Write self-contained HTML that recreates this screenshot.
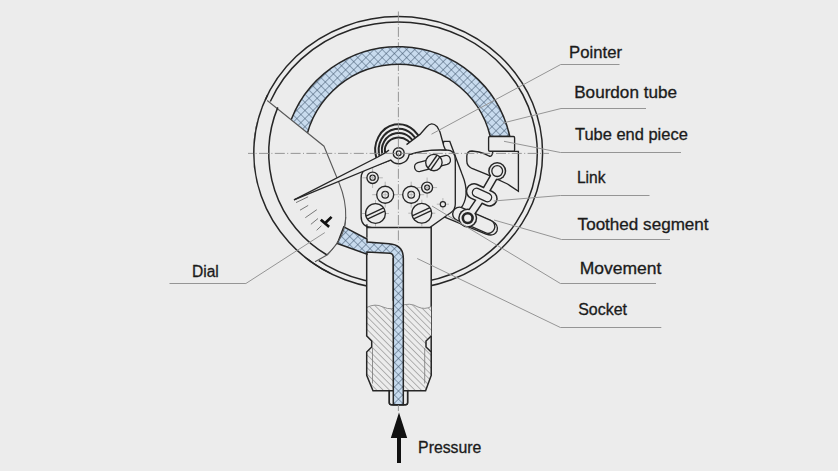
<!DOCTYPE html><html><head><meta charset="utf-8"><style>html,body{margin:0;padding:0;background:#ececec;}svg{display:block}text{font-family:"Liberation Sans",sans-serif;font-size:15.6px;fill:#1b1b1b;stroke:#1b1b1b;stroke-width:0.3px}</style></head><body><svg width="838" height="471" viewBox="0 0 838 471"><defs>
<pattern id="xh" width="5.75" height="5.75" patternUnits="userSpaceOnUse" patternTransform="rotate(45)">
<rect width="5.75" height="5.75" fill="#c8dbee"/>
<path d="M0 0H5.75M0 0V5.75" stroke="#3f556c" stroke-width="1.05"/>
</pattern>
<pattern id="xh2" width="3" height="3" patternUnits="userSpaceOnUse" patternTransform="rotate(45)">
<rect width="3" height="3" fill="#cfe0f0"/>
<path d="M0 0H3M0 0V3" stroke="#44596f" stroke-width="0.85"/>
</pattern>
<pattern id="th" width="4.5" height="4.5" patternUnits="userSpaceOnUse" patternTransform="rotate(45)">
<rect width="4.5" height="4.5" fill="#ececec"/>
<path d="M0 0H4.5" stroke="#858585" stroke-width="1.15"/>
</pattern>
</defs><rect width="838" height="471" fill="#ececec"/><ellipse cx="398.2" cy="153" rx="144.4" ry="136.4" fill="none" stroke="#262626" stroke-width="1.5"/><path d="M270.3 101.5A139.1 131.1 0 1 1 315.0 258.1" fill="none" stroke="#262626" stroke-width="1.5"/><path d="M288.4 128.0A114.5 114.5 0 0 1 509.8 136.5L490.3 136.5A94.5 94.5 0 0 0 304.4 150.0Z" fill="url(#xh)" stroke="#262626" stroke-width="1.5"/><path d="M264 99.5 L267.2 100.5 L324 146.2 L339.4 183.7 C344 195 346 206 345.7 217 C345.4 230 341 241 327 255 L318 261 L300 256 L270 230 L255 190 L252 150 L258 115 Z" fill="#ececec" stroke="none" stroke-width="1.5"/><path d="M267.2 100.5 L324 146.2 L339.4 183.7 C344 195 346 206 345.7 217 C345.4 230 341 241 327 255" fill="none" stroke="#5a5a5a" stroke-width="1.1"/><path d="M277.8 107.4 A118.5 118.5 0 0 0 327 255" fill="none" stroke="#262626" stroke-width="1.5"/><path d="M327 255 L315 261.8" fill="none" stroke="#5a5a5a" stroke-width="1.1"/><path d="M267.5 95 A144.4 136.4 0 0 0 330.0 273.2" fill="none" stroke="#262626" stroke-width="1.5"/><path d="M308.1 196.8L296.0 202.6" fill="none" stroke="#6a6a6a" stroke-width="0.9"/><path d="M308.2 205.4L300.0 210.2" fill="none" stroke="#6a6a6a" stroke-width="0.9"/><path d="M316.8 209.7L305.3 217.7" fill="none" stroke="#6a6a6a" stroke-width="0.9"/><path d="M318.0 218.5L310.9 224.3" fill="none" stroke="#6a6a6a" stroke-width="0.9"/><path d="M321.4 225.8L316.6 230.3" fill="none" stroke="#6a6a6a" stroke-width="0.9"/><path d="M321.8 220.6 L328.1 226 M325 223.3 L330.6 217.8" fill="none" stroke="#111" stroke-width="2.7" stroke-linecap="square"/><path d="M366.7 227.4 H431.2 V375.4 L425.6 390.8 H373 L366.7 375.4 Z" fill="#ececec" stroke="none" stroke-width="1.5"/><path d="M366.7 227.4 H431.2 V375.4" fill="none" stroke="#262626" stroke-width="1.5"/><path d="M366.7 307.5 Q375 303 383 307 Q392 311 400 306 Q410 302 418 307 Q425 310 431.2 306.5 V336 L426 341 V347 L431.2 352 V375.4 L425.6 390.8 H373 L366.7 375.4 V352 L371.7 347 V341 L366.7 336 Z" fill="url(#th)" stroke="none" stroke-width="1.5"/><path d="M366.7 307.5 Q375 303 383 307 Q392 311 400 306 Q410 302 418 307 Q425 310 431.2 306.5" fill="none" stroke="#888" stroke-width="0.9"/><path d="M366.7 254.2 V336 L371.7 341 V347 L366.7 352 V375.4 L373 390.8 H389.3 V402.6 Q389.3 404.8 391.5 404.8 H405.4 Q407.6 404.8 407.6 402.6 V390.8 H425.6 L431.2 375.4 V352 L426 347 V341 L431.2 336" fill="none" stroke="#262626" stroke-width="1.5"/><path d="M372.5 348 V383.5 M424.7 348 V383.5" fill="none" stroke="#777" stroke-width="0.8"/><path d="M389.3 390.8 V402.6 Q389.3 404.8 391.5 404.8 H405.4 Q407.6 404.8 407.6 402.6 V390.8Z" fill="#ececec" stroke="#262626" stroke-width="1.5"/><path d="M443.8 141.4 H449.8 L462 174 Q467 186 466 195 Q465 203 461 208 L492 221 Q499 225 497 231 Q494 237 486 234 L430 211 Z" fill="#ececec" stroke="#262626" stroke-width="1.35"/><path d="M493 151.4 H518.4 V191.2 L507.5 184 L486.8 174.3 L472 168.5 Q466.8 166 466.8 161 V156 Q467 151 472 151 L479 152 Q485 153.5 489 156 Q492 157 492.5 153 Z" fill="#ececec" stroke="#262626" stroke-width="1.35"/><rect x="488.6" y="136.5" width="26" height="14.7" rx="1.2" fill="#ececec" stroke="#262626" stroke-width="1.35"/><path d="M372 227.3 H430.1 L451 212.5 Q455.3 209.5 455.3 204 V160 Q455.3 150 446.7 150 Q425 149 409 154.7 L392 159.5 L367 168.8 Q361.1 171 361.1 178 V216.2 Q361.1 227.3 372 227.3 Z" fill="#ececec" stroke="#262626" stroke-width="1.35"/><path d="M366.9 224.3 V237.8" fill="none" stroke="#262626" stroke-width="1.35"/><path d="M362.4 177.8H382.8M372.6 167.6V188.0" stroke="#a8a8a8" stroke-width="0.8"/><path d="M372.2 194.7H398.2M385.2 181.7V207.7" stroke="#a8a8a8" stroke-width="0.8"/><path d="M398.2 194.7H424.2M411.2 181.7V207.7" stroke="#a8a8a8" stroke-width="0.8"/><path d="M417.1 187.6H437.1M427.1 177.6V197.6" stroke="#a8a8a8" stroke-width="0.8"/><path d="M436.8 204.2H449.0M442.9 198.1V210.3" stroke="#a8a8a8" stroke-width="0.8"/><path d="M362.0 213.5H389.0M375.5 200.0V227.0" stroke="#a8a8a8" stroke-width="0.8"/><path d="M408.3 213.2H435.3M421.8 199.7V226.7" stroke="#a8a8a8" stroke-width="0.8"/><circle cx="372.6" cy="177.8" r="5.7" fill="#ececec" stroke="#262626" stroke-width="1.35"/><circle cx="372.6" cy="177.8" r="2.6" fill="#ececec" stroke="#262626" stroke-width="1.3"/><path d="M370.0 177.8H375.2M372.6 175.2V180.4" stroke="#a8a8a8" stroke-width="0.7"/><circle cx="385.2" cy="194.7" r="8.5" fill="#ececec" stroke="#262626" stroke-width="1.35"/><circle cx="385.2" cy="194.7" r="3.3" fill="#ececec" stroke="#262626" stroke-width="1.3"/><path d="M381.9 194.7H388.5M385.2 191.4V198.0" stroke="#a8a8a8" stroke-width="0.7"/><circle cx="411.2" cy="194.7" r="8.5" fill="#ececec" stroke="#262626" stroke-width="1.35"/><circle cx="411.2" cy="194.7" r="3.3" fill="#ececec" stroke="#262626" stroke-width="1.3"/><path d="M407.9 194.7H414.5M411.2 191.4V198.0" stroke="#a8a8a8" stroke-width="0.7"/><circle cx="427.1" cy="187.6" r="5.5" fill="#ececec" stroke="#262626" stroke-width="1.35"/><circle cx="427.1" cy="187.6" r="2.4" fill="#ececec" stroke="#262626" stroke-width="1.3"/><path d="M424.7 187.6H429.5M427.1 185.2V190.0" stroke="#a8a8a8" stroke-width="0.7"/><circle cx="442.9" cy="204.2" r="2.6" fill="#ececec" stroke="#262626" stroke-width="1.2"/><circle cx="375.5" cy="213.5" r="9.9" fill="#ececec" stroke="#262626" stroke-width="1.35"/><path d="M365.94 216.08L383.62 207.84" fill="none" stroke="#262626" stroke-width="1.35"/><path d="M367.38 219.16L385.06 210.92" fill="none" stroke="#262626" stroke-width="1.35"/><circle cx="421.8" cy="213.2" r="9.9" fill="#ececec" stroke="#262626" stroke-width="1.35"/><path d="M412.24 215.78L429.92 207.54" fill="none" stroke="#262626" stroke-width="1.35"/><path d="M413.68 218.86L431.36 210.62" fill="none" stroke="#262626" stroke-width="1.35"/><path d="M420.15 171.45L447.15 164.45A4.6 4.6 0 0 0 444.85 155.55L417.85 162.55A4.6 4.6 0 0 0 420.15 171.45Z" fill="#ececec" stroke="#262626" stroke-width="1.35"/><circle cx="433.9" cy="162.5" r="8.2" fill="#ececec" stroke="#262626" stroke-width="1.35"/><path d="M427.98 168.17L437.20 154.99" fill="none" stroke="#262626" stroke-width="1.35"/><path d="M430.60 170.01L439.82 156.83" fill="none" stroke="#262626" stroke-width="1.35"/><path d="M456.77 220.23L485.27 232.73A6.8 6.8 0 0 0 490.73 220.27L462.23 207.77A6.8 6.8 0 0 0 456.77 220.23Z" fill="#ececec" stroke="#262626" stroke-width="1.35"/><circle cx="497.2" cy="171.1" r="9.05" fill="#262626"/><path d="M497.2 171.1L483.6 194.7" stroke="#262626" stroke-width="8.7" stroke-linecap="round"/><path d="M474 191.3L489.5 198.5" stroke="#262626" stroke-width="16.5" stroke-linecap="round"/><path d="M483.6 194.7L467.7 218.1" stroke="#262626" stroke-width="8.7" stroke-linecap="round"/><circle cx="467.7" cy="218.1" r="9.55" fill="#262626"/><circle cx="497.2" cy="171.1" r="7.550000000000001" fill="#ececec"/><path d="M497.2 171.1L483.6 194.7" stroke="#ececec" stroke-width="5.7" stroke-linecap="round"/><path d="M474 191.3L489.5 198.5" stroke="#ececec" stroke-width="13.5" stroke-linecap="round"/><path d="M483.6 194.7L467.7 218.1" stroke="#ececec" stroke-width="5.7" stroke-linecap="round"/><circle cx="467.7" cy="218.1" r="8.05" fill="#ececec"/><circle cx="497.2" cy="171.1" r="5.4" fill="#ececec" stroke="#262626" stroke-width="1.3"/><path d="M474.72 196.41L485.72 201.41A4.3 4.3 0 0 0 489.28 193.59L478.28 188.59A4.3 4.3 0 0 0 474.72 196.41Z" fill="#ececec" stroke="#262626" stroke-width="1.3"/><circle cx="467.7" cy="218.1" r="4.9" fill="#ececec" stroke="#262626" stroke-width="2.6"/><path d="M294 199.9 L377.8 157 L386 152.4 L389 150 L398.7 146 L406.5 144.6 Q414 139 420 134.4 L426.5 127 Q431.5 121 437 126.5 L440 132 L443.8 146 L446.7 150 Q425 149 409.1 154.7 A10.5 10.5 0 0 1 390.7 160 Z" fill="#ececec" stroke="none" stroke-width="1.35"/><path d="M294 199.9 L377.8 157 L386 152.4 L389 150" fill="none" stroke="#262626" stroke-width="1.35"/><path d="M294 199.9 L390.7 160 A10.5 10.5 0 0 0 409.1 154.7 Q425 149 446.7 150" fill="none" stroke="#262626" stroke-width="1.35"/><path d="M406.5 144.6 Q414 139 420 134.4 L426.5 127 Q431.5 121 437 126.5 L440 132 L443.8 146 L445.5 150" fill="none" stroke="#262626" stroke-width="1.35"/><clipPath id="spc"><path d="M350 100 H426.5 V127 L420 134.4 Q414 139 406.5 144.6 L398.7 147.3 L389 150 L377.8 157 L350 171 Z"/></clipPath><g clip-path="url(#spc)"><path d="M376.62 158.82A23.5 25.8 0 1 1 422.20 150" fill="none" stroke="#262626" stroke-width="2.0"/><path d="M379.91 157.29A20 21.3 0 1 1 418.70 150" fill="none" stroke="#262626" stroke-width="2.0"/><path d="M382.91 155.81A16.8 17 0 1 1 415.50 150" fill="none" stroke="#262626" stroke-width="2.0"/><path d="M385.73 154.28A13.8 12.5 0 1 1 412.50 150" fill="none" stroke="#262626" stroke-width="2.0"/></g><circle cx="398.7" cy="153.2" r="5.5" fill="#ececec" stroke="#262626" stroke-width="1.35"/><circle cx="398.7" cy="153.2" r="2.4" fill="#ececec" stroke="#262626" stroke-width="1.3"/><path d="M343.8 226.8 L367 239 L367 242 L389 243.8 Q403.3 245 403.3 258 L403.3 300 L393.3 300 L393.3 258 Q393.3 253.2 390 253.2 L367 252 L367 254.2 L337.4 243.5 Z" fill="url(#xh)" stroke="#262626" stroke-width="1.5"/><path d="M345.7 217 C345.4 230 341 241 327 255" fill="none" stroke="#5a5a5a" stroke-width="1.1"/><path d="M393.3 258 V404.8 H403.3 V258" fill="url(#xh)" stroke="#262626" stroke-width="1.5"/><g stroke="#8c8c8c" stroke-width="0.9" fill="none"><path d="M248 153.4H549" stroke-dasharray="10 2.4 1 2.4" stroke-dashoffset="4.8"/><path d="M398.4 11.5V46" stroke-dasharray="10 2.2 1 2.2"/><path d="M398.4 65V243" stroke-dasharray="10 2.2 1 2.2" stroke-dashoffset="4"/><path d="M398.4 405V411"/></g><path d="M431.5 134.2L560.7 64.5H619.5" fill="none" stroke="#959595" stroke-width="1"/><path d="M503 123L561 108.5H646" fill="none" stroke="#959595" stroke-width="1"/><path d="M504 141.3L560.5 152.5H681" fill="none" stroke="#959595" stroke-width="1"/><path d="M493.7 201L560.4 195.5H649.5" fill="none" stroke="#959595" stroke-width="1"/><path d="M494 220L561.5 239.5H670" fill="none" stroke="#959595" stroke-width="1"/><path d="M432 206L560.4 283.5H656" fill="none" stroke="#959595" stroke-width="1"/><path d="M417.2 258.5L560.4 327.5H661.3" fill="none" stroke="#959595" stroke-width="1"/><path d="M324.8 232.6L245.9 283.5H169.5" fill="none" stroke="#959595" stroke-width="1"/><text x="569.1" y="57.9" textLength="52.9" lengthAdjust="spacingAndGlyphs">Pointer</text><text x="574.2" y="98.4" textLength="102.8" lengthAdjust="spacingAndGlyphs">Bourdon tube</text><text x="575" y="140.4" textLength="112.8" lengthAdjust="spacingAndGlyphs">Tube end piece</text><text x="576.9" y="182.6" textLength="28.6" lengthAdjust="spacingAndGlyphs">Link</text><text x="577.6" y="229.8" textLength="131" lengthAdjust="spacingAndGlyphs">Toothed segment</text><text x="579.7" y="274" textLength="81.6" lengthAdjust="spacingAndGlyphs">Movement</text><text x="578.2" y="314.8" textLength="48.8" lengthAdjust="spacingAndGlyphs">Socket</text><text x="191.9" y="276.7" textLength="26.9" lengthAdjust="spacingAndGlyphs">Dial</text><text x="418.1" y="452.9" textLength="63.3" lengthAdjust="spacingAndGlyphs" style="font-size:15.6px">Pressure</text><path d="M399 412.4 L407.2 438 H401 V463 H397 V438 H390.8 Z" fill="#111" stroke="none" stroke-width="1.5"/></svg></body></html>
